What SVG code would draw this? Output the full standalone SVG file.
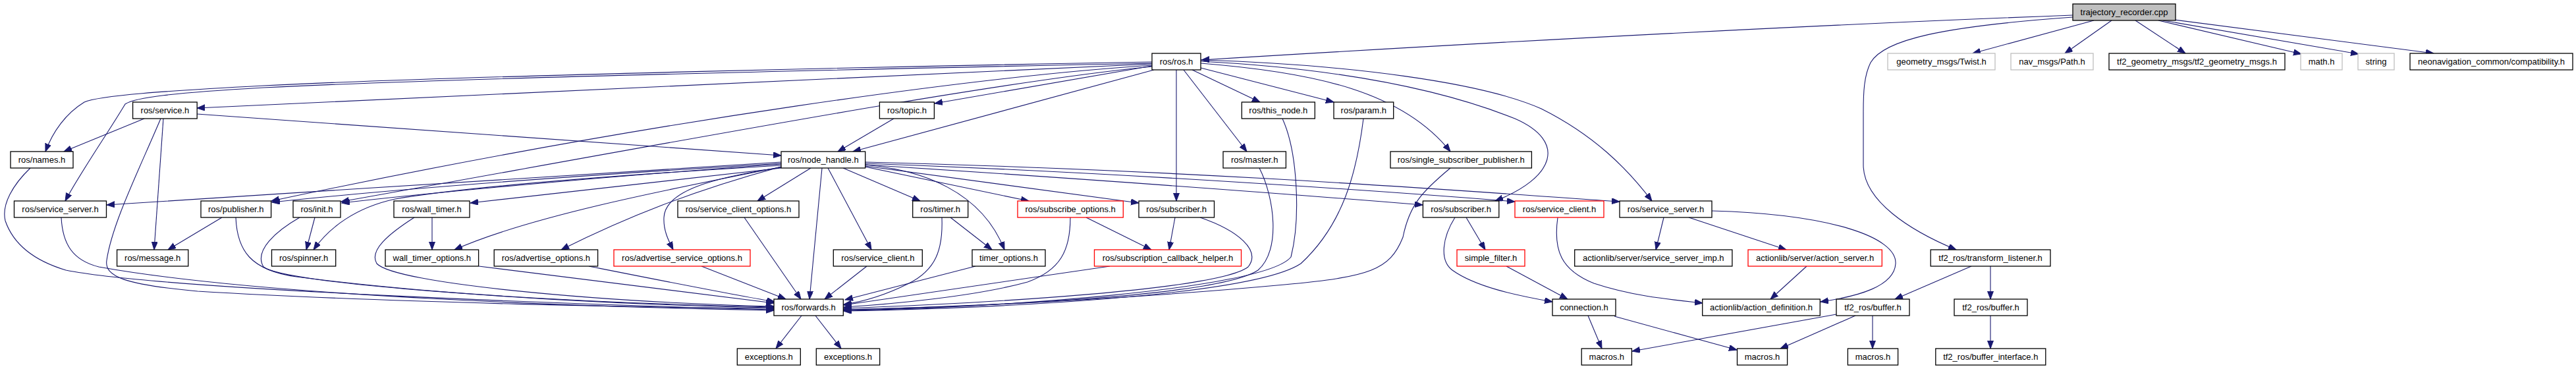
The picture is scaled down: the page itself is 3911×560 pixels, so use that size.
<svg xmlns="http://www.w3.org/2000/svg" width="3911" height="560" viewBox="0 0 3911 560">
<defs>
<style>
.node rect{fill:#ffffff;stroke:#000000;stroke-width:1.3}
.node.red rect{stroke:#ff0000}
.node.gray rect{stroke:#bfbfbf}
.node.main rect{fill:#bfbfbf}
.node text{font-family:"Liberation Sans",Arial,Helvetica,sans-serif;font-size:13px;fill:#000000;text-anchor:middle}
.edges path{fill:none;stroke:#191970;stroke-width:1.1;marker-end:url(#arr)}
</style>
<marker id="arr" markerUnits="userSpaceOnUse" markerWidth="13" markerHeight="10" refX="12" refY="4.5" orient="auto">
<path d="M0,0 L12,4.5 L0,9 z" fill="#191970" stroke="#191970" stroke-width="1"/>
</marker>
</defs>
<rect x="0" y="0" width="3911" height="560" fill="#ffffff"/>
<g class="edges" id="connectors">
<path d="M3147,23 C2700,40 2200,68 1824,91"/>
<path d="M3147,26 C2950,40 2860,60 2840,95 C2830,115 2829,140 2829,170 L2829,250 C2829,305 2900,350 2970,379"/>
<path d="M3179,31 L2995,81"/>
<path d="M3206,31 L3135,81"/>
<path d="M3242,31 L3318,81"/>
<path d="M3277,31 L3494,82"/>
<path d="M3284,31 L3581,82"/>
<path d="M3301,30 L3695,81"/>
<path d="M1749,94 C1400,100 700,115 400,130 C250,138 150,145 128,155 C100,172 80,200 69,230"/>
<path d="M1749,96 C1400,103 700,118 400,133 C260,141 205,148 190,158 C165,200 120,265 99,305"/>
<path d="M1749,97 C1500,105 900,135 299,164"/>
<path d="M1749,99 C1500,115 1000,180 412,305"/>
<path d="M1749,101 C1500,125 1000,220 518,306"/>
<path d="M1749,100 L1419,157"/>
<path d="M1752,106 L1295,230"/>
<path d="M1810,106 L1913,155"/>
<path d="M1823,103 L2025,155"/>
<path d="M1797,106 L1893,230"/>
<path d="M1786,106 L1786,305"/>
<path d="M1823,96 C2000,110 2130,140 2202,230"/>
<path d="M1823,93 C2050,105 2200,140 2300,180 C2380,215 2360,270 2270,305"/>
<path d="M1823,91 C2050,98 2250,125 2340,165 C2420,205 2470,255 2508,305"/>
<path d="M1357,180 L1272,230"/>
<path d="M219,180 L97,230"/>
<path d="M248,180 L234,379"/>
<path d="M244,180 C210,260 170,340 162,395 C158,420 190,432 300,442 C600,460 1000,467 1175,468"/>
<path d="M299,173 L1186,236"/>
<path d="M46,255 C20,280 2,310 8,335 C20,370 50,395 100,410 C250,440 900,463 1175,470"/>
<path d="M93,330 C95,370 110,395 150,405 C400,450 900,466 1175,471"/>
<path d="M337,330 L255,379"/>
<path d="M358,330 C360,380 380,410 450,420 C700,452 1000,464 1175,467"/>
<path d="M478,330 L465,379"/>
<path d="M455,330 C420,350 385,380 400,405 C430,430 800,458 1175,466"/>
<path d="M656,330 L656,379"/>
<path d="M629,330 C590,355 560,380 572,400 C600,430 900,458 1175,465"/>
<path d="M727,404 C900,425 1050,445 1175,460"/>
<path d="M894,404 C1000,425 1100,445 1176,458"/>
<path d="M1065,404 L1193,454"/>
<path d="M1130,330 L1216,454"/>
<path d="M1248,255 L1229,454"/>
<path d="M1316,404 L1252,454"/>
<path d="M1186,246 C900,262 500,290 162,311"/>
<path d="M1186,248 C900,265 600,287 413,307"/>
<path d="M1186,249 C1000,262 700,287 519,308"/>
<path d="M1186,251 C900,268 700,285 600,302 C540,315 500,345 476,379"/>
<path d="M1186,255 L714,308"/>
<path d="M1188,253 C1000,290 800,330 690,379"/>
<path d="M1186,253 C1050,290 950,330 852,379"/>
<path d="M1186,254 C1080,270 1010,290 1008,330 C1007,350 1015,365 1022,379"/>
<path d="M1231,255 L1150,305"/>
<path d="M1257,255 L1323,379"/>
<path d="M1280,255 L1397,305"/>
<path d="M1314,250 C1400,258 1490,290 1525,379"/>
<path d="M1313,253 L1562,305"/>
<path d="M1314,252 L1729,308"/>
<path d="M1314,250 C1700,275 2000,298 2160,311"/>
<path d="M1314,248 C1700,262 2100,290 2300,306"/>
<path d="M1314,246 C1800,258 2200,288 2459,306"/>
<path d="M1443,330 L1506,379"/>
<path d="M1430,330 C1432,380 1420,410 1380,430 C1340,450 1310,458 1281,462"/>
<path d="M1481,404 L1283,455"/>
<path d="M1649,330 L1748,379"/>
<path d="M1625,330 C1625,380 1610,410 1560,428 C1480,450 1350,462 1281,466"/>
<path d="M1784,330 L1775,379"/>
<path d="M1822,330 C1880,350 1915,380 1895,405 C1850,440 1500,460 1281,468"/>
<path d="M1685,404 L1281,463"/>
<path d="M1912,255 C1935,300 1945,380 1910,410 C1850,450 1500,465 1281,470"/>
<path d="M1947,180 C1970,230 1975,330 1960,390 C1920,440 1500,468 1281,471"/>
<path d="M2070,180 C2060,260 2040,340 1975,400 C1900,450 1500,468 1281,472"/>
<path d="M2202,255 C2160,290 2140,310 2130,360 C2110,410 2080,420 1950,432 C1700,455 1450,466 1281,470"/>
<path d="M2226,330 L2255,379"/>
<path d="M2209,330 C2190,360 2185,395 2205,410 C2240,435 2300,448 2357,458"/>
<path d="M2287,404 L2380,454"/>
<path d="M2411,479 L2432,529"/>
<path d="M2451,480 L2637,531"/>
<path d="M2365,330 C2358,380 2370,410 2420,430 C2480,450 2540,455 2585,460"/>
<path d="M2526,330 L2514,379"/>
<path d="M2564,330 L2712,379"/>
<path d="M2599,320 C2780,325 2880,360 2878,400 C2876,435 2820,450 2764,458"/>
<path d="M2743,404 L2688,454"/>
<path d="M2993,404 L2877,454"/>
<path d="M3022,404 L3022,454"/>
<path d="M3022,479 L3022,529"/>
<path d="M2843,479 L2843,529"/>
<path d="M2817,479 L2703,529"/>
<path d="M2788,477 L2478,533"/>
<path d="M1217,479 L1178,529"/>
<path d="M1238,479 L1277,529"/>
</g>
<g id="n_traj" class="node main"><rect x="3147" y="6" width="156" height="25"/><text x="3225" y="23">trajectory_recorder.cpp</text></g>
<g id="n_ros" class="node"><rect x="1749" y="81" width="74" height="25"/><text x="1786" y="98">ros/ros.h</text></g>
<g id="n_twist" class="node gray"><rect x="2866" y="81" width="163" height="25"/><text x="2947.5" y="98">geometry_msgs/Twist.h</text></g>
<g id="n_path" class="node gray"><rect x="3053" y="81" width="125" height="25"/><text x="3115.5" y="98">nav_msgs/Path.h</text></g>
<g id="n_tf2gm" class="node"><rect x="3202" y="81" width="267" height="25"/><text x="3335.5" y="98">tf2_geometry_msgs/tf2_geometry_msgs.h</text></g>
<g id="n_math" class="node gray"><rect x="3493" y="81" width="63" height="25"/><text x="3524.5" y="98">math.h</text></g>
<g id="n_string" class="node gray"><rect x="3580" y="81" width="55" height="25"/><text x="3607.5" y="98">string</text></g>
<g id="n_compat" class="node"><rect x="3659" y="81" width="247" height="25"/><text x="3782.5" y="98">neonavigation_common/compatibility.h</text></g>
<g id="n_service" class="node"><rect x="201.6" y="155" width="97.6" height="25"/><text x="250.4" y="172">ros/service.h</text></g>
<g id="n_topic" class="node"><rect x="1335.4" y="155" width="83" height="25"/><text x="1377" y="172">ros/topic.h</text></g>
<g id="n_thisnode" class="node"><rect x="1885.3" y="155" width="111" height="25"/><text x="1940.8" y="172">ros/this_node.h</text></g>
<g id="n_param" class="node"><rect x="2025" y="155" width="90.7" height="25"/><text x="2070.3" y="172">ros/param.h</text></g>
<g id="n_names" class="node"><rect x="16" y="230" width="95" height="25"/><text x="63.5" y="247">ros/names.h</text></g>
<g id="n_nh" class="node"><rect x="1186" y="230" width="127.7" height="25"/><text x="1249.8" y="247">ros/node_handle.h</text></g>
<g id="n_master" class="node"><rect x="1857" y="230" width="95.4" height="25"/><text x="1904.7" y="247">ros/master.h</text></g>
<g id="n_ssp" class="node"><rect x="2111" y="230" width="214.4" height="25"/><text x="2218.2" y="247">ros/single_subscriber_publisher.h</text></g>
<g id="n_ss1" class="node"><rect x="21.5" y="305" width="140" height="25"/><text x="91.5" y="322">ros/service_server.h</text></g>
<g id="n_pub" class="node"><rect x="305" y="305" width="106.6" height="25"/><text x="358.3" y="322">ros/publisher.h</text></g>
<g id="n_init" class="node"><rect x="445" y="305" width="72" height="25"/><text x="481" y="322">ros/init.h</text></g>
<g id="n_wt" class="node"><rect x="598" y="305" width="115" height="25"/><text x="655.5" y="322">ros/wall_timer.h</text></g>
<g id="n_sco" class="node"><rect x="1029" y="305" width="184" height="25"/><text x="1121" y="322">ros/service_client_options.h</text></g>
<g id="n_timer" class="node"><rect x="1385.7" y="305" width="84" height="25"/><text x="1427.7" y="322">ros/timer.h</text></g>
<g id="n_subopt" class="node red"><rect x="1545" y="305" width="160.3" height="25"/><text x="1625.2" y="322">ros/subscribe_options.h</text></g>
<g id="n_sub1" class="node"><rect x="1729" y="305" width="114.5" height="25"/><text x="1786.2" y="322">ros/subscriber.h</text></g>
<g id="n_sub2" class="node"><rect x="2160.4" y="305" width="115.4" height="25"/><text x="2218.1" y="322">ros/subscriber.h</text></g>
<g id="n_sc2" class="node red"><rect x="2300" y="305" width="135" height="25"/><text x="2367.5" y="322">ros/service_client.h</text></g>
<g id="n_ss2" class="node"><rect x="2459" y="305" width="140" height="25"/><text x="2529" y="322">ros/service_server.h</text></g>
<g id="n_msg" class="node"><rect x="177.6" y="379" width="108.2" height="25"/><text x="231.7" y="396">ros/message.h</text></g>
<g id="n_spin" class="node"><rect x="412.5" y="379" width="97.2" height="25"/><text x="461.1" y="396">ros/spinner.h</text></g>
<g id="n_wto" class="node"><rect x="585" y="379" width="141.6" height="25"/><text x="655.8" y="396">wall_timer_options.h</text></g>
<g id="n_ao" class="node"><rect x="750.2" y="379" width="157.4" height="25"/><text x="828.9" y="396">ros/advertise_options.h</text></g>
<g id="n_aso" class="node red"><rect x="932" y="379" width="207" height="25"/><text x="1035.5" y="396">ros/advertise_service_options.h</text></g>
<g id="n_sc1" class="node"><rect x="1265.3" y="379" width="135" height="25"/><text x="1332.8" y="396">ros/service_client.h</text></g>
<g id="n_to" class="node"><rect x="1476" y="379" width="111" height="25"/><text x="1531.5" y="396">timer_options.h</text></g>
<g id="n_sch" class="node red"><rect x="1661.5" y="379" width="223" height="25"/><text x="1773" y="396">ros/subscription_callback_helper.h</text></g>
<g id="n_sf" class="node red"><rect x="2212" y="379" width="103" height="25"/><text x="2263.5" y="396">simple_filter.h</text></g>
<g id="n_ssimp" class="node"><rect x="2390.7" y="379" width="239.2" height="25"/><text x="2510.3" y="396">actionlib/server/service_server_imp.h</text></g>
<g id="n_as" class="node red"><rect x="2654" y="379" width="203.3" height="25"/><text x="2755.6" y="396">actionlib/server/action_server.h</text></g>
<g id="n_tl" class="node"><rect x="2931.2" y="379" width="181.8" height="25"/><text x="3022.1" y="396">tf2_ros/transform_listener.h</text></g>
<g id="n_fwd" class="node"><rect x="1175" y="454" width="105.3" height="25"/><text x="1227.6" y="471">ros/forwards.h</text></g>
<g id="n_conn" class="node"><rect x="2357" y="454" width="96" height="25"/><text x="2405" y="471">connection.h</text></g>
<g id="n_ad" class="node"><rect x="2584.7" y="454" width="178.6" height="25"/><text x="2674" y="471">actionlib/action_definition.h</text></g>
<g id="n_buf1" class="node"><rect x="2788" y="454" width="111" height="25"/><text x="2843.5" y="471">tf2_ros/buffer.h</text></g>
<g id="n_buf2" class="node"><rect x="2967" y="454" width="111" height="25"/><text x="3022.5" y="471">tf2_ros/buffer.h</text></g>
<g id="n_exc1" class="node"><rect x="1119.3" y="529" width="96" height="25"/><text x="1167.3" y="546">exceptions.h</text></g>
<g id="n_exc2" class="node"><rect x="1239.3" y="529" width="96.4" height="25"/><text x="1287.5" y="546">exceptions.h</text></g>
<g id="n_mac1" class="node"><rect x="2401.2" y="529" width="76.2" height="25"/><text x="2439.3" y="546">macros.h</text></g>
<g id="n_mac2" class="node"><rect x="2637.5" y="529" width="76.1" height="25"/><text x="2675.5" y="546">macros.h</text></g>
<g id="n_mac3" class="node"><rect x="2805.4" y="529" width="76.2" height="25"/><text x="2843.5" y="546">macros.h</text></g>
<g id="n_bi" class="node"><rect x="2938.8" y="529" width="167" height="25"/><text x="3022.3" y="546">tf2_ros/buffer_interface.h</text></g>
</svg>
